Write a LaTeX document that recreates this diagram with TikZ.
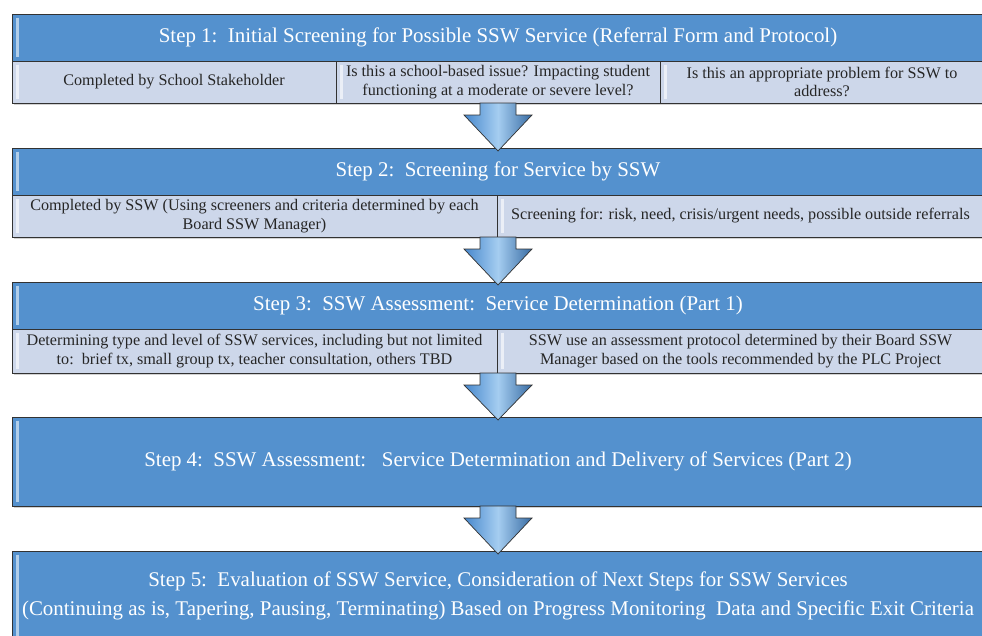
\documentclass[tikz,border=0pt]{standalone}
\usepackage{fontspec}
\setmainfont{Liberation Serif}
\usetikzlibrary{positioning, calc, shadows}
\definecolor{headblue}{RGB}{84,145,206}
\definecolor{subblue}{RGB}{205,215,234}
\definecolor{edgegray}{RGB}{50,50,50}
\definecolor{arrowblue}{RGB}{70,135,205}
\definecolor{arrowlight}{RGB}{165,205,240}
\tikzset{
	main/.style = {rectangle, draw = edgegray, fill = headblue, text = white, minimum width = 19.44cm, minimum height = 0.94cm, text centered, align = center, font = \fontsize{11.9}{16.5}\selectfont, drop shadow = {shadow xshift = 1pt, shadow yshift = -1pt, fill = black!35},
		path picture = {\draw [white!55!headblue, line width = 1.6pt] ([xshift = 3pt, yshift = -2pt]path picture bounding box.north west) -- ([xshift = 3pt, yshift = 2pt]path picture bounding box.south west);}},
	sub/.style = {rectangle, draw = edgegray, fill = subblue, text = black!85, minimum height = 0.84cm, text centered, align = center, font = \fontsize{9.2}{10.6}\selectfont, drop shadow = {shadow xshift = 1pt, shadow yshift = -1pt, fill = black!35},
		path picture = {\draw [white!60!subblue, line width = 1.4pt] ([xshift = 3pt, yshift = -2pt]path picture bounding box.north west) -- ([xshift = 3pt, yshift = 2pt]path picture bounding box.south west);}},
	arrow/.style = {draw = edgegray, thin, line join = miter, left color = arrowblue, right color = arrowblue!80!black, middle color = arrowlight}
}
% block arrow from the bottom of one step to the top of the next
\newcommand{\steparrow}[2]{%
	\draw [arrow] let \p1 = (#2.north), \p2 = (#1.south) in
		(\x1-0.36cm,\y2) -- (\x1-0.36cm,\y2-0.24cm) -- (\x1-0.68cm,\y2-0.24cm) -- (\x1,\y1-0.06cm)
		-- (\x1+0.68cm,\y2-0.24cm) -- (\x1+0.36cm,\y2-0.24cm) -- (\x1+0.36cm,\y2) -- cycle;}

\begin{document}
\begin{tikzpicture}[inner sep = 0pt, outer sep = 0pt]
	\useasboundingbox (0,0) rectangle (19.64,-12.7);
	\clip (0,0) rectangle (19.64,-12.7);

	%% step 1
	\node (s1) [main, anchor = north west] at (0.24,-0.28) {Step 1:\ \ Initial Screening for Possible SSW Service (Referral Form and Protocol)};
	% sub nodes
	\node (s1a) [sub, minimum width = 6.48cm, anchor = north west] at (s1.south west) {Completed by School Stakeholder};
	\node (s1b) [sub, minimum width = 6.48cm, right = 0cm of s1a] {Is this a school-based issue? Impacting student\\functioning at a moderate or severe level?};
	\node (s1c) [sub, minimum width = 6.48cm, right = 0cm of s1b] {Is this an appropriate problem for SSW to\\address?};

	%% step 2
	\node (s2) [main, below = 0.9cm of s1a.south west, anchor = north west] {Step 2:\ \ Screening for Service by SSW};
	% sub nodes
	\node (s2a) [sub, minimum width = 9.7cm, anchor = north west] at (s2.south west) {Completed by SSW (Using screeners and criteria determined by each\\Board SSW Manager)};
	\node (s2b) [sub, minimum width = 9.74cm, right = 0cm of s2a] {Screening for: risk, need, crisis/urgent needs, possible outside referrals};

	%% step 3
	\node (s3) [main, below = 0.9cm of s2a.south west, anchor = north west] {Step 3:\ \ SSW Assessment:\ \ Service Determination (Part 1)};
	% sub nodes
	\node (s3a) [sub, minimum width = 9.7cm, minimum height = 0.88cm, anchor = north west] at (s3.south west) {Determining type and level of SSW services, including but not limited\\to:\ \ brief tx, small group tx, teacher consultation, others TBD};
	\node (s3b) [sub, minimum width = 9.74cm, minimum height = 0.88cm, right = 0cm of s3a] {SSW use an assessment protocol determined by their Board SSW\\Manager based on the tools recommended by the PLC Project};

	%% step 4
	\node (s4) [main, minimum height = 1.78cm, below = 0.88cm of s3a.south west, anchor = north west] {Step 4:\ \ SSW Assessment:\ \ \ Service Determination and Delivery of Services (Part 2)};

	%% step 5
	\node (s5) [main, minimum height = 1.8cm, below = 0.9cm of s4.south west, anchor = north west] {Step 5:\ \ Evaluation of SSW Service, Consideration of Next Steps for SSW Services\\(Continuing as is, Tapering, Pausing, Terminating) Based on Progress Monitoring\ \ Data and Specific Exit Criteria};

	%%% arrows %%%
	\steparrow{s1b}{s2}
	\steparrow{s2a}{s3}
	\steparrow{s3a}{s4}
	\steparrow{s4}{s5}
\end{tikzpicture}
\end{document}
